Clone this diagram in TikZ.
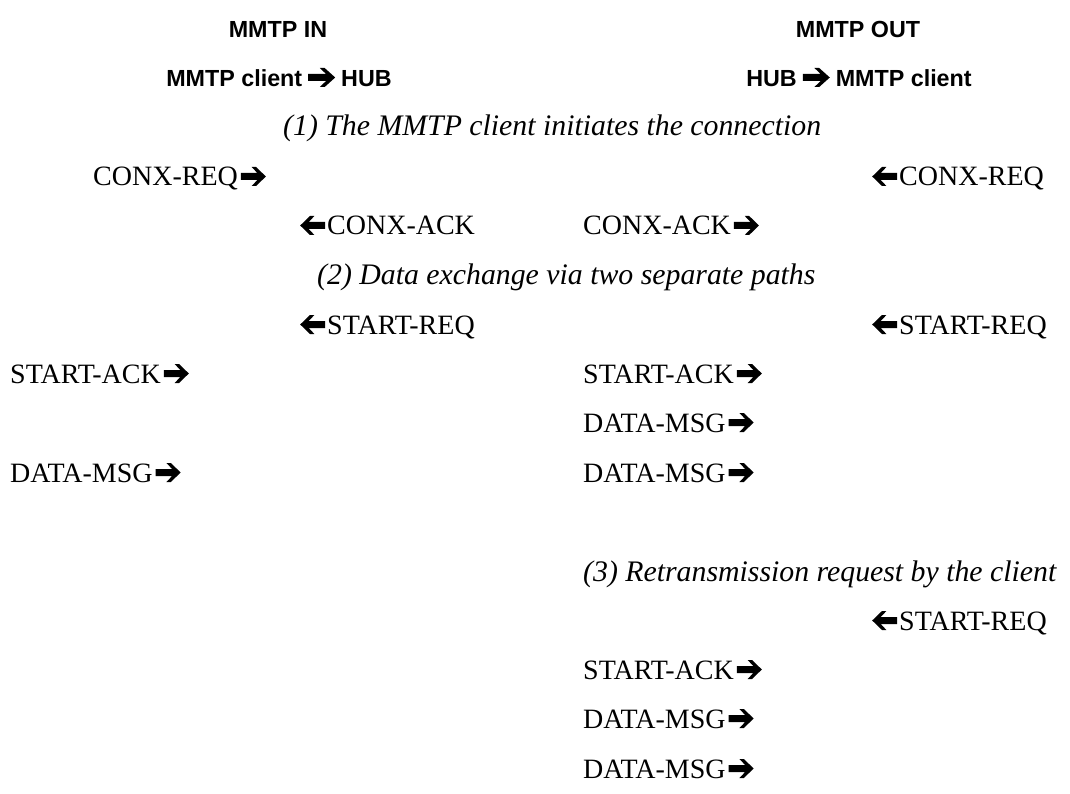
\documentclass[tikz,border=0pt]{standalone}
\usepackage{fontspec}
\setmainfont{Liberation Serif}
\newfontfamily\hdrfont{Liberation Sans}

% bold arrow glyphs, drawn as small filled shapes
\newcommand{\arrowshape}{(0,6)--(16.5,6)--(10.8,0)--(15.2,0)--(25,9.5)--(15.2,19)--(10.8,19)--(16.5,13)--(0,13)--cycle}
\newcommand{\arrR}{\hspace{3pt}\tikz[baseline=0pt,x=1pt,y=1pt]\fill \arrowshape;}
\newcommand{\arrL}{\tikz[baseline=0pt,x=-1pt,y=1pt]\fill \arrowshape;\hspace{2pt}}
\newcommand{\hdrarr}{\hspace{6pt}\tikz[baseline=0pt,x=1.08pt,y=1pt]\fill \arrowshape;\hspace{6pt}}

\tikzset{
  hdr/.style={inner sep=0pt, anchor=base, font=\hdrfont\bfseries\fontsize{23.3}{28}\selectfont},
  msg/.style={inner sep=0pt, anchor=base west, font=\fontsize{28}{34}\selectfont},
  phase/.style={msg, font=\itshape\fontsize{29.8}{34}\selectfont}
}

\begin{document}
\begin{tikzpicture}[x=1pt,y=-1pt]
    \useasboundingbox (0,0) rectangle (1070,794);

    % headers
    \node[hdr] (hdrIn)  at (278,38) {MMTP IN};
    \node[hdr] (hdrOut) at (858,38) {MMTP OUT};
    \node[hdr] (dirIn)  at (279,87) {MMTP client\hdrarr HUB};
    \node[hdr] (dirOut) at (859,87) {HUB\hdrarr MMTP client};

    % (1) connection
    \node[phase] (phaseA) at (283,136) {(1) The MMTP client initiates the connection};
    \node[msg] (conxReqIn)  at (93,186)  {CONX-REQ\arrR};
    \node[msg] (conxReqOut) at (872,186) {\arrL CONX-REQ};
    \node[msg] (conxAckIn)  at (300,235) {\arrL CONX-ACK};
    \node[msg] (conxAckOut) at (583,235) {CONX-ACK\arrR};

    % (2) data exchange
    \node[phase] (phaseB) at (317,284) {(2) Data exchange via two separate paths};
    \node[msg] (startReqIn)  at (300,334) {\arrL START-REQ};
    \node[msg] (startReqOut) at (872,334) {\arrL START-REQ};
    \node[msg] (startAckIn)  at (10,383)  {START-ACK\arrR};
    \node[msg] (startAckOut) at (583,383) {START-ACK\arrR};
    \node[msg] (dataOutA)    at (583,432) {DATA-MSG\arrR};
    \node[msg] (dataIn)      at (10,482)  {DATA-MSG\arrR};
    \node[msg] (dataOutB)    at (583,482) {DATA-MSG\arrR};

    % (3) retransmission
    \node[phase] (phaseC) at (583,581) {(3) Retransmission request by the client};
    \node[msg] (retryReq)   at (872,630) {\arrL START-REQ};
    \node[msg] (retryAck)   at (583,679) {START-ACK\arrR};
    \node[msg] (retryDataA) at (583,728) {DATA-MSG\arrR};
    \node[msg] (retryDataB) at (583,778) {DATA-MSG\arrR};
\end{tikzpicture}
\end{document}
